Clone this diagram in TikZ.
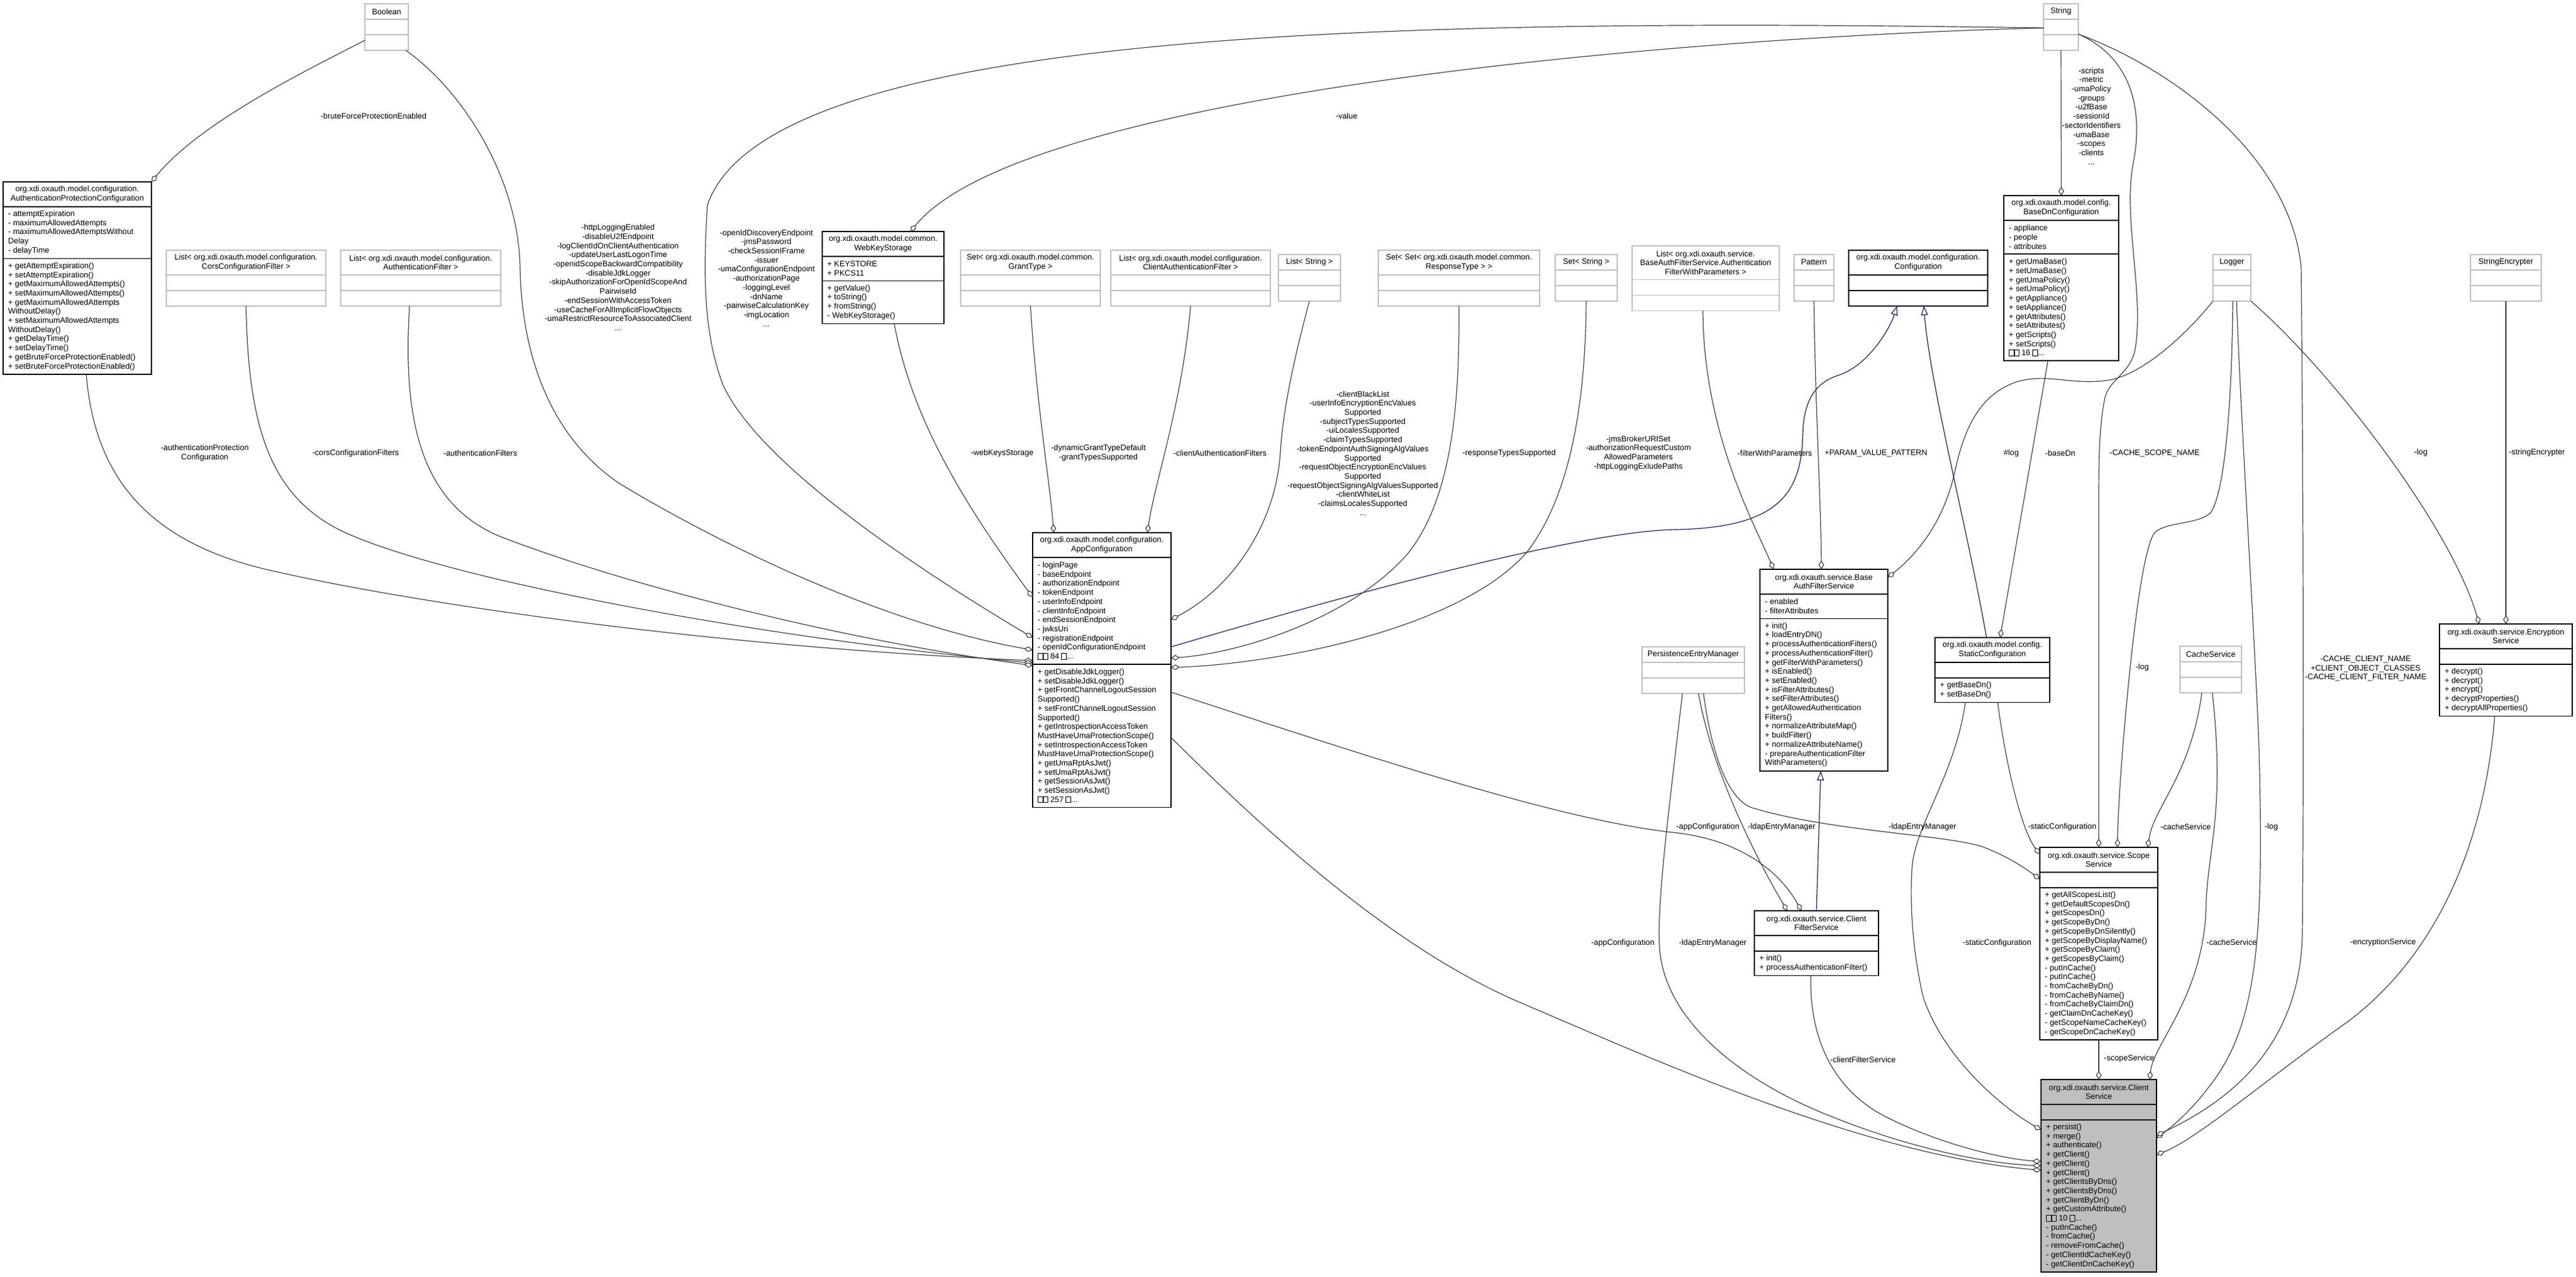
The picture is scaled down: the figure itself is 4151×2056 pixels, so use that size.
\documentclass[tikz,border=0pt]{standalone}
\usepackage{fontspec}
\setmainfont{Liberation Sans}
\usetikzlibrary{arrows.meta}
\definecolor{edgec}{HTML}{404040}
\definecolor{inhc}{HTML}{191970}
\definecolor{boxg}{HTML}{BFBFBF}
\definecolor{fillg}{HTML}{BFBFBF}
\newcommand\qb{{\fboxsep=0pt\fboxrule=0.7pt\fbox{\rule{0pt}{9pt}\hspace{7pt}}}}
\tikzset{
  txt/.style={font=\fontsize{12.8}{14.7}\selectfont, inner sep=0pt, text=black},
  lbl/.style={txt, align=center},
  greybox/.style={draw=boxg, line width=1.6pt, fill=white},
  blackbox/.style={draw=black, line width=1.6pt, fill=white},
  filledbox/.style={draw=black, line width=1.6pt, fill=fillg},
  boxnode/.style={draw=none, inner sep=0pt, outer sep=0pt, anchor=north west},
  agg/.style={draw=edgec, line width=1.2pt, -{Diamond[length=14pt,width=9pt,fill=white]}},
  inh/.style={draw=inhc, line width=1.2pt, -{Triangle[length=15pt,width=11pt,fill=white]}}
}
\newcommand\umlcls[5]{\tikzset{curbox/.style={#2}}\def\umlN{#1}\def\umlX{#3}\def\umlY{#4}\def\umlW{#5}}
\newcommand\umlparts[6]{%
  \pgfmathsetmacro\umlHA{#1*14.7+10.3}%
  \pgfmathsetmacro\umlHB{max(#3*14.7+10.3,25)}%
  \pgfmathsetmacro\umlHC{max(#5*14.7+10.3,25)}%
  \pgfmathsetmacro\umlYB{\umlY+\umlHA}%
  \pgfmathsetmacro\umlYC{\umlYB+\umlHB}%
  \pgfmathsetmacro\umlHT{\umlHA+\umlHB+\umlHC}%
  \draw[curbox] (\umlX,\umlY) rectangle ++(\umlW,\umlHA);
  \draw[curbox] (\umlX,\umlYB) rectangle ++(\umlW,\umlHB);
  \draw[curbox] (\umlX,\umlYC) rectangle ++(\umlW,\umlHC);
  \node[txt,align=center] at (\umlX+\umlW/2,\umlY+\umlHA/2) {#2};
  \node[txt,align=left,anchor=west] at (\umlX+8,\umlYB+\umlHB/2) {#4};
  \node[txt,align=left,anchor=west] at (\umlX+8,\umlYC+\umlHC/2) {#6};
  \node[boxnode, minimum width=\umlW pt, minimum height=\umlHT pt] (\umlN) at (\umlX,\umlY) {};
}
\begin{document}
\begin{tikzpicture}[x=1pt,y=-1pt]
\useasboundingbox (0,0) rectangle (4151,2056);
\fill[white] (0,0) rectangle (4151,2056);

% ---------- classes ----------
\umlcls{Bool}{greybox}{588}{6}{70}\umlparts{1}{Boolean}{0}{}{0}{}
\umlcls{Str}{greybox}{3293}{6}{56}\umlparts{1}{String}{0}{}{0}{}
\umlcls{APC}{blackbox}{5}{293}{239}\umlparts{2}{org.xdi.oxauth.model.configuration.\\AuthenticationProtectionConfiguration}{5}{- attemptExpiration\\- maximumAllowedAttempts\\- maximumAllowedAttemptsWithout\\Delay\\- delayTime}{12}{+ getAttemptExpiration()\\+ setAttemptExpiration()\\+ getMaximumAllowedAttempts()\\+ setMaximumAllowedAttempts()\\+ getMaximumAllowedAttempts\\WithoutDelay()\\+ setMaximumAllowedAttempts\\WithoutDelay()\\+ getDelayTime()\\+ setDelayTime()\\+ getBruteForceProtectionEnabled()\\+ setBruteForceProtectionEnabled()}
\umlcls{Cors}{greybox}{268}{403}{257}\umlparts{2}{List< org.xdi.oxauth.model.configuration.\\CorsConfigurationFilter >}{0}{}{0}{}
\umlcls{AF}{greybox}{549}{403}{258}\umlparts{2}{List< org.xdi.oxauth.model.configuration.\\AuthenticationFilter >}{0}{}{0}{}
\umlcls{WKS}{blackbox}{1325}{373}{196}\umlparts{2}{org.xdi.oxauth.model.common.\\WebKeyStorage}{2}{+ KEYSTORE\\+ PKCS11}{4}{+ getValue()\\+ toString()\\+ fromString()\\- WebKeyStorage()}
\umlcls{SGT}{greybox}{1548}{403}{225}\umlparts{2}{Set< org.xdi.oxauth.model.common.\\GrantType >}{0}{}{0}{}
\umlcls{LCAF}{greybox}{1790}{403}{257}\umlparts{2}{List< org.xdi.oxauth.model.configuration.\\ClientAuthenticationFilter >}{0}{}{0}{}
\umlcls{LS}{greybox}{2060}{410}{100}\umlparts{1}{List< String >}{0}{}{0}{}
\umlcls{SSRT}{greybox}{2221}{403}{260}\umlparts{2}{Set< Set< org.xdi.oxauth.model.common.\\ResponseType > >}{0}{}{0}{}
\umlcls{SS}{greybox}{2506}{410}{100}\umlparts{1}{Set< String >}{0}{}{0}{}
\umlcls{LBA}{greybox}{2630}{396}{237}\umlparts{3}{List< org.xdi.oxauth.service.\\BaseAuthFilterService.Authentication\\FilterWithParameters >}{0}{}{0}{}
\umlcls{Pat}{greybox}{2891}{410}{64}\umlparts{1}{Pattern}{0}{}{0}{}
\umlcls{Conf}{blackbox}{2979}{403}{224}\umlparts{2}{org.xdi.oxauth.model.configuration.\\Configuration}{0}{}{0}{}
\umlcls{BDN}{blackbox}{3229}{315}{185}\umlparts{2}{org.xdi.oxauth.model.config.\\BaseDnConfiguration}{3}{- appliance\\- people\\- attributes}{11}{+ getUmaBase()\\+ setUmaBase()\\+ getUmaPolicy()\\+ setUmaPolicy()\\+ getAppliance()\\+ setAppliance()\\+ getAttributes()\\+ setAttributes()\\+ getScripts()\\+ setScripts()\\\qb\qb{} 16 \qb...}
\umlcls{Log}{greybox}{3566}{410}{61}\umlparts{1}{Logger}{0}{}{0}{}
\umlcls{SE}{greybox}{3981}{410}{114}\umlparts{1}{StringEncrypter}{0}{}{0}{}
\umlcls{AC}{blackbox}{1664}{858}{223}\umlparts{2}{org.xdi.oxauth.model.configuration.\\AppConfiguration}{11}{- loginPage\\- baseEndpoint\\- authorizationEndpoint\\- tokenEndpoint\\- userInfoEndpoint\\- clientInfoEndpoint\\- endSessionEndpoint\\- jwksUri\\- registrationEndpoint\\- openIdConfigurationEndpoint\\\qb\qb{} 84 \qb...}{15}{+ getDisableJdkLogger()\\+ setDisableJdkLogger()\\+ getFrontChannelLogoutSession\\Supported()\\+ setFrontChannelLogoutSession\\Supported()\\+ getIntrospectionAccessToken\\MustHaveUmaProtectionScope()\\+ setIntrospectionAccessToken\\MustHaveUmaProtectionScope()\\+ getUmaRptAsJwt()\\+ setUmaRptAsJwt()\\+ getSessionAsJwt()\\+ setSessionAsJwt()\\\qb\qb{} 257 \qb...}
\umlcls{PEM}{greybox}{2646}{1042}{165}\umlparts{1}{PersistenceEntryManager}{0}{}{0}{}
\umlcls{BAFS}{blackbox}{2836}{917}{206}\umlparts{2}{org.xdi.oxauth.service.Base\\AuthFilterService}{2}{- enabled\\- filterAttributes}{16}{+ init()\\+ loadEntryDN()\\+ processAuthenticationFilters()\\+ processAuthenticationFilter()\\+ getFilterWithParameters()\\+ isEnabled()\\+ setEnabled()\\+ isFilterAttributes()\\+ setFilterAttributes()\\+ getAllowedAuthentication\\Filters()\\+ normalizeAttributeMap()\\+ buildFilter()\\+ normalizeAttributeName()\\- prepareAuthenticationFilter\\WithParameters()}
\umlcls{SC}{blackbox}{3118}{1027}{185}\umlparts{2}{org.xdi.oxauth.model.config.\\StaticConfiguration}{0}{}{2}{+ getBaseDn()\\+ setBaseDn()}
\umlcls{CS}{greybox}{3513}{1041}{99}\umlparts{1}{CacheService}{0}{}{0}{}
\umlcls{ES}{blackbox}{3931}{1005}{214}\umlparts{2}{org.xdi.oxauth.service.Encryption\\Service}{0}{}{5}{+ decrypt()\\+ decrypt()\\+ encrypt()\\+ decryptProperties()\\+ decryptAllProperties()}
\umlcls{SSv}{blackbox}{3287}{1365}{190}\umlparts{2}{org.xdi.oxauth.service.Scope\\Service}{0}{}{16}{+ getAllScopesList()\\+ getDefaultScopesDn()\\+ getScopesDn()\\+ getScopeByDn()\\+ getScopeByDnSilently()\\+ getScopeByDisplayName()\\+ getScopeByClaim()\\+ getScopesByClaim()\\- putInCache()\\- putInCache()\\- fromCacheByDn()\\- fromCacheByName()\\- fromCacheByClaimDn()\\- getClaimDnCacheKey()\\- getScopeNameCacheKey()\\- getScopeDnCacheKey()}
\umlcls{CFS}{blackbox}{2827}{1467}{200}\umlparts{2}{org.xdi.oxauth.service.Client\\FilterService}{0}{}{2}{+ init()\\+ processAuthenticationFilter()}
\umlcls{CSv}{filledbox}{3289}{1739}{186}\umlparts{2}{org.xdi.oxauth.service.Client\\Service}{0}{}{16}{+ persist()\\+ merge()\\+ authenticate()\\+ getClient()\\+ getClient()\\+ getClient()\\+ getClientsByDns()\\+ getClientsByDns()\\+ getClientByDn()\\+ getCustomAttribute()\\\qb\qb{} 10 \qb...\\- putInCache()\\- fromCache()\\- removeFromCache()\\- getClientIdCacheKey()\\- getClientDnCacheKey()}

% ---------- connectors ----------
\draw[agg] ([shift={(0,59)}]Bool.north west) .. controls (480,120) and (320,200) .. (APC.north east);
\draw[agg] ([shift={(66,75)}]Bool.north west) .. controls (750,150) and (835,290) .. (838,430) .. controls (840,560) and (880,700) .. (1000,780) .. controls (1200,900) and (1450,1010) .. ([shift={(0,189)}]AC.north west);
\draw[agg] ([shift={(0,39)}]Str.north west) .. controls (2300,30) and (1240,40) .. (1140,330) .. controls (1132,450) and (1135,540) .. (1165,620) .. controls (1220,740) and (1450,900) .. ([shift={(0,169)}]AC.north west);
\draw[agg] ([shift={(0,39)}]Str.north west) .. controls (2700,60) and (1650,150) .. ([shift={(142,0)}]WKS.north west);
\draw[agg] (Str.south) -- (BDN.north);
\draw[agg] ([shift={(0,49)}]Str.north east) .. controls (3430,90) and (3455,170) .. (3438,260) .. controls (3420,350) and (3455,470) .. (3441,560) .. controls (3435,600) and (3400,610) .. (3392,640) .. controls (3384,680) and (3382,720) .. (3382,800) -- ([shift={(95,0)}]SSv.north west);
\draw[agg] ([shift={(32,0)}]Log.south west) .. controls (3597,600) and (3590,780) .. (3563,825) .. controls (3545,845) and (3490,840) .. (3472,858) .. controls (3455,880) and (3440,1000) .. (3430,1100) .. controls (3420,1200) and (3413,1300) .. ([shift={(125,0)}]SSv.north west);
\draw[agg] (Log.south west) .. controls (3530,530) and (3460,600) .. (3400,612) .. controls (3340,622) and (3300,600) .. (3250,615) .. controls (3190,635) and (3165,690) .. (3150,760) .. controls (3130,850) and (3080,900) .. ([shift={(0,13)}]BAFS.north east);
\draw[agg] ([shift={(71,0)}]BDN.south west) -- ([shift={(105,0)}]SC.north west);
\draw[inh] ([shift={(83,0)}]SC.north west) .. controls (3170,850) and (3110,620) .. ([shift={(121,0)}]Conf.south west);
\draw[inh] ([shift={(0,184)}]AC.north east) .. controls (2300,920) and (2580,855) .. (2700,853) .. controls (2860,850) and (2903,800) .. (2905,700) .. controls (2906,640) and (2930,615) .. (2961,605) .. controls (3010,590) and (3045,530) .. ([shift={(78,0)}]Conf.south west);
\draw[agg] ([shift={(114,0)}]LBA.south west) .. controls (2745,700) and (2830,850) .. ([shift={(22,0)}]BAFS.north west);
\draw[agg] (Pat.south) .. controls (2925,650) and (2934,800) .. ([shift={(99,0)}]BAFS.north west);
\draw[inh] (CFS.north) -- ([shift={(98,0)}]BAFS.south west);
\draw[agg] ([shift={(116,0)}]WKS.south west) .. controls (1470,680) and (1560,820) .. ([shift={(0,104)}]AC.north west);
\draw[agg] (SGT.south) .. controls (1670,650) and (1692,780) .. ([shift={(34,0)}]AC.north west);
\draw[agg] (LCAF.south) .. controls (1905,650) and (1860,780) .. ([shift={(185,0)}]AC.north west);
\draw[agg] (LS.south) .. controls (2090,560) and (2068,650) .. (2063,730) .. controls (2055,850) and (1980,950) .. ([shift={(0,140)}]AC.north east);
\draw[agg] (SSRT.south) .. controls (2352,650) and (2340,800) .. (2270,890) .. controls (2180,995) and (2000,1052) .. ([shift={(0,202)}]AC.north east);
\draw[agg] (SS.south) .. controls (2555,650) and (2530,800) .. (2460,890) .. controls (2350,1015) and (2050,1070) .. ([shift={(0,217)}]AC.north east);
\draw[agg] ([shift={(134,0)}]APC.south west) .. controls (152,760) and (230,870) .. (428,917) .. controls (700,980) and (1200,1045) .. ([shift={(0,206)}]AC.north west);
\draw[agg] (Cors.south) .. controls (400,700) and (440,810) .. (568,863) .. controls (750,940) and (1250,1030) .. ([shift={(0,210)}]AC.north west);
\draw[agg] ([shift={(111,0)}]AF.south west) .. controls (648,680) and (680,810) .. (803,863) .. controls (1000,940) and (1350,1030) .. ([shift={(0,214)}]AC.north west);
\draw[agg] ([shift={(0,257)}]AC.north east) .. controls (2150,1200) and (2500,1320) .. (2697,1341) .. controls (2800,1352) and (2865,1400) .. ([shift={(76,0)}]CFS.north west);
\draw[agg] ([shift={(0,330)}]AC.north east) .. controls (2050,1350) and (2250,1530) .. (2450,1615) .. controls (2650,1700) and (3000,1860) .. ([shift={(0,146)}]CSv.north west);
\draw[agg] ([shift={(91,0)}]PEM.south west) .. controls (2760,1250) and (2840,1400) .. ([shift={(53,0)}]CFS.north west);
\draw[agg] ([shift={(99,0)}]PEM.south west) .. controls (2760,1230) and (2790,1290) .. (2823,1301) .. controls (2950,1340) and (3150,1345) .. (3200,1366) .. controls (3240,1382) and (3265,1400) .. ([shift={(0,51)}]SSv.north west);
\draw[agg] ([shift={(65,0)}]PEM.south west) .. controls (2690,1300) and (2670,1450) .. (2674,1524) .. controls (2680,1640) and (2800,1740) .. (2955,1800) .. controls (3080,1850) and (3200,1874) .. ([shift={(0,139)}]CSv.north west);
\draw[agg] ([shift={(101,0)}]SC.south west) .. controls (3235,1250) and (3260,1340) .. ([shift={(0,11)}]SSv.north west);
\draw[agg] ([shift={(49,0)}]SC.south west) .. controls (3150,1250) and (3085,1330) .. (3081,1399) .. controls (3076,1480) and (3088,1560) .. (3099,1606) .. controls (3130,1700) and (3220,1780) .. ([shift={(0,81)}]CSv.north west);
\draw[agg] ([shift={(91,0)}]CFS.south west) .. controls (2915,1680) and (2960,1760) .. (3041,1800) .. controls (3120,1840) and (3220,1866) .. ([shift={(0,132)}]CSv.north west);
\draw[agg] (SSv.south) -- (CSv.north);
\draw[agg] ([shift={(35,0)}]CS.south west) .. controls (3530,1250) and (3470,1300) .. ([shift={(174,0)}]SSv.north west);
\draw[agg] ([shift={(52,0)}]CS.south west) .. controls (3585,1300) and (3560,1360) .. (3555,1450) .. controls (3555,1600) and (3470,1680) .. ([shift={(175,0)}]CSv.north west);
\draw[agg] ([shift={(38,0)}]Log.south west) .. controls (3612,700) and (3632,1000) .. (3640,1200) .. controls (3648,1500) and (3640,1650) .. (3560,1750) .. controls (3530,1790) and (3500,1815) .. ([shift={(0,94)}]CSv.north east);
\draw[agg] ([shift={(0,49)}]Str.north east) .. controls (3500,110) and (3690,250) .. (3708,430) .. controls (3712,800) and (3712,1300) .. (3710,1500) .. controls (3708,1680) and (3600,1770) .. ([shift={(0,90)}]CSv.north east);
\draw[agg] (Log.south east) .. controls (3760,600) and (3950,850) .. ([shift={(64,0)}]ES.north west);
\draw[agg] (SE.south) -- ([shift={(107,0)}]ES.north west);
\draw[agg] ([shift={(89,0)}]ES.south west) .. controls (4000,1400) and (3900,1560) .. (3780,1648) .. controls (3650,1740) and (3540,1835) .. ([shift={(0,121)}]CSv.north east);

% ---------- labels ----------
\node[lbl] (l1) at (602,187) {-bruteForceProtectionEnabled};
\node[lbl] (l2) at (996,447) {-httpLoggingEnabled\\-disableU2fEndpoint\\-logClientIdOnClientAuthentication\\-updateUserLastLogonTime\\-openidScopeBackwardCompatibility\\-disableJdkLogger\\-skipAuthorizationForOpenIdScopeAnd\\PairwiseId\\-endSessionWithAccessToken\\-useCacheForAllImplicitFlowObjects\\-umaRestrictResourceToAssociatedClient\\...};
\node[lbl] (l3) at (1235,448) {-openIdDiscoveryEndpoint\\-jmsPassword\\-checkSessionIFrame\\-issuer\\-umaConfigurationEndpoint\\-authorizationPage\\-loggingLevel\\-dnName\\-pairwiseCalculationKey\\-imgLocation\\...};
\node[lbl] (l4) at (2170,187) {-value};
\node[lbl] (l5) at (3370,187) {-scripts\\-metric\\-umaPolicy\\-groups\\-u2fBase\\-sessionId\\-sectorIdentifiers\\-umaBase\\-scopes\\-clients\\...};
\node[lbl] (l6) at (330,730) {-authenticationProtection\\Configuration};
\node[lbl] (l7) at (573,730) {-corsConfigurationFilters};
\node[lbl] (l8) at (774,730) {-authenticationFilters};
\node[lbl] (l9) at (1615,730) {-webKeysStorage};
\node[lbl] (l10) at (1770,730) {-dynamicGrantTypeDefault\\-grantTypesSupported};
\node[lbl] (l11) at (1966,730) {-clientAuthenticationFilters};
\node[lbl] (l12) at (2196,730) {-clientBlackList\\-userInfoEncryptionEncValues\\Supported\\-subjectTypesSupported\\-uiLocalesSupported\\-claimTypesSupported\\-tokenEndpointAuthSigningAlgValues\\Supported\\-requestObjectEncryptionEncValues\\Supported\\-requestObjectSigningAlgValuesSupported\\-clientWhiteList\\-claimsLocalesSupported\\...};
\node[lbl] (l13) at (2432,730) {-responseTypesSupported};
\node[lbl] (l14) at (2640,730) {-jmsBrokerURISet\\-authorizationRequestCustom\\AllowedParameters\\-httpLoggingExludePaths};
\node[lbl] (l15) at (2860,730) {-filterWithParameters};
\node[lbl] (l16) at (3023,730) {+PARAM\_VALUE\_PATTERN};
\node[lbl] (l17) at (3241,730) {\#log};
\node[lbl] (l18) at (3320,730) {-baseDn};
\node[lbl] (l19) at (3472,730) {-CACHE\_SCOPE\_NAME};
\node[lbl] (l20) at (3452,1075) {-log};
\node[lbl] (l21) at (3901,729) {-log};
\node[lbl] (l22) at (4088,729) {-stringEncrypter};
\node[lbl] (l23) at (3812,1077) {-CACHE\_CLIENT\_NAME\\+CLIENT\_OBJECT\_CLASSES\\-CACHE\_CLIENT\_FILTER\_NAME};
\node[lbl] (l24) at (2752,1332) {-appConfiguration};
\node[lbl] (l25) at (2871,1332) {-ldapEntryManager};
\node[lbl] (l26) at (3098,1332) {-ldapEntryManager};
\node[lbl] (l27) at (3323,1332) {-staticConfiguration};
\node[lbl] (l28) at (3522,1332) {-cacheService};
\node[lbl] (l29) at (3660,1332) {-log};
\node[lbl] (l30) at (2615,1519) {-appConfiguration};
\node[lbl] (l31) at (2760,1519) {-ldapEntryManager};
\node[lbl] (l32) at (3218,1519) {-staticConfiguration};
\node[lbl] (l33) at (3596,1518) {-cacheService};
\node[lbl] (l34) at (3840,1518) {-encryptionService};
\node[lbl] (l35) at (3431,1705) {-scopeService};
\node[lbl] (l36) at (3002,1707) {-clientFilterService};
\end{tikzpicture}
\end{document}
